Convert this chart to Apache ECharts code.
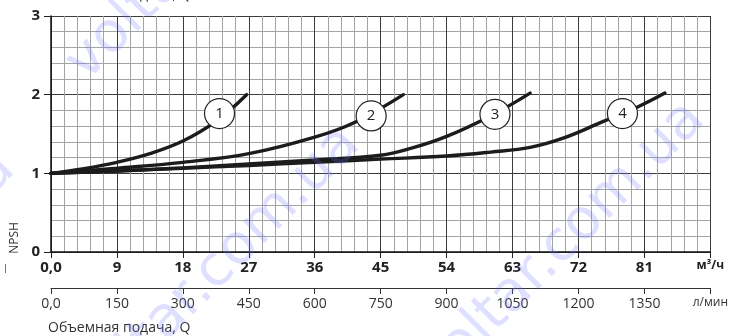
<!DOCTYPE html>
<html>
<head>
<meta charset="utf-8">
<script src="https://cdn.jsdelivr.net/npm/echarts@6/dist/echarts.min.js"></script>
<style>
  html, body { margin: 0; padding: 0; background: #fff; }
  #chart { width: 731px; height: 336px; }
</style>
</head>
<body>
<div id="chart"></div>
<script>
// Flow in m³/h versus NPSH for four pump sizes
const flowTicksM3h = [0, 9, 18, 27, 36, 45, 54, 63, 72, 81, 90];
const flowUnitM3h = 'м³/ч';
const flowUnitLmin = 'л/мин';
const flowAxisName = 'Объемная подача, Q';
const npshName = 'NPSH';

const curve1 = [[0, 1.0], [4.5, 1.06], [9, 1.14], [13.5, 1.25], [18, 1.41], [22.5, 1.66], [26.7, 2.0]];
const curve2 = [[0, 1.0], [9, 1.065], [18, 1.14], [27, 1.25], [36, 1.46], [41.5, 1.65], [48.1, 2.0]];
const curve3 = [[0, 1.0], [9, 1.03], [18, 1.07], [27, 1.12], [36, 1.17], [45, 1.23], [49.2, 1.32], [54, 1.47], [60, 1.73], [65.4, 2.02]];
const curve4 = [[0, 1.0], [9, 1.03], [18, 1.065], [27, 1.1], [36, 1.14], [45, 1.18], [54, 1.22], [60, 1.27], [65.4, 1.33], [70, 1.45], [75.4, 1.66], [80, 1.84], [83.8, 2.02]];

// Numbered markers placed on each curve
const curveTags = ['1', '2', '3', '4'];
const tagPositions = [[23, 1.76], [43.7, 1.73], [60.6, 1.75], [78, 1.76]];

const watermarkText = 'voltar.com.ua';

const chart = echarts.init(document.getElementById('chart'), null, { renderer: 'canvas' });

const lineColor = '#1c1c1c';
const majorGrid = '#3c3c3c';
const minorGrid = '#a4a4a4';
const fontFamily = '"Open Sans", "DejaVu Sans", sans-serif';

function curveSeries(data) {
  return {
    type: 'line',
    data: data,
    smooth: 0.4,
    showSymbol: false,
    xAxisIndex: 0,
    yAxisIndex: 0,
    lineStyle: { color: lineColor, width: 3.4, cap: 'round' },
    z: 3,
    silent: true
  };
}

function watermark(x, y) {
  return {
    type: 'text',
    x: x, y: y,
    rotation: Math.PI / 4,
    z: 100,
    silent: true,
    style: {
      text: watermarkText,
      fill: 'rgba(110,110,255,0.22)',
      fontSize: 56,
      fontFamily: '"DejaVu Sans", sans-serif',
      align: 'left',
      verticalAlign: 'middle'
    }
  };
}

const option = {
  animation: false,
  backgroundColor: '#ffffff',
  grid: { left: 51, right: 18, top: 16, bottom: 84, containLabel: false },
  xAxis: [
    {
      type: 'value',
      min: 0, max: 90, interval: 9,
      position: 'bottom',
      axisLine: { show: true, onZero: false, lineStyle: { color: '#111', width: 1.5 } },
      axisTick: { show: true, inside: false, length: 6, lineStyle: { color: '#222', width: 1 } },
      axisLabel: {
        margin: 8,
        color: '#222',
        fontSize: 15,
        fontWeight: 'bold',
        fontFamily: fontFamily,
        showMinLabel: true,
        showMaxLabel: true,
        formatter: function (v) {
          if (v === 0) return '0,0';
          if (v === 90) return '{u|' + flowUnitM3h + '}';
          return String(v);
        },
        rich: { u: { fontSize: 12, fontWeight: 'bold', color: '#222', fontFamily: fontFamily } }
      },
      splitLine: { show: true, lineStyle: { color: majorGrid, width: 1 } },
      minorTick: { show: false, splitNumber: 5 },
      minorSplitLine: { show: true, lineStyle: { color: minorGrid, width: 1 } }
    },
    {
      type: 'value',
      min: 0, max: 1500, interval: 150,
      position: 'bottom',
      offset: 36,
      axisLine: { show: true, onZero: false, lineStyle: { color: '#333', width: 1 } },
      axisTick: { show: true, inside: false, length: 6, lineStyle: { color: '#333', width: 1 } },
      axisLabel: {
        margin: 9,
        color: '#333',
        fontSize: 14,
        fontFamily: fontFamily,
        showMinLabel: true,
        showMaxLabel: true,
        formatter: function (v) {
          if (v === 0) return '0,0';
          if (v === 1500) return '{u|' + flowUnitLmin + '}';
          return String(v);
        },
        rich: { u: { fontSize: 12, color: '#333', fontFamily: fontFamily } }
      },
      splitLine: { show: false }
    }
  ],
  yAxis: {
    type: 'value',
    min: 0, max: 3, interval: 1,
    axisLine: { show: true, onZero: false, lineStyle: { color: '#111', width: 1.5 } },
    axisTick: { show: true, inside: false, length: 7, lineStyle: { color: '#222', width: 1 } },
    axisLabel: {
      margin: 11,
      color: '#222',
      fontSize: 15,
      fontWeight: 'bold',
      fontFamily: fontFamily
    },
    splitLine: { show: true, lineStyle: { color: majorGrid, width: 1 } },
    minorTick: { show: false, splitNumber: 5 },
    minorSplitLine: { show: true, lineStyle: { color: minorGrid, width: 1 } }
  },
  series: [
    curveSeries(curve1),
    curveSeries(curve2),
    curveSeries(curve3),
    curveSeries(curve4),
    {
      type: 'scatter',
      data: tagPositions.map(function (p, i) { return { value: p, name: curveTags[i] }; }),
      symbol: 'circle',
      symbolSize: 30,
      itemStyle: { color: '#ffffff', borderColor: '#222', borderWidth: 1.2, opacity: 1 },
      label: {
        show: true,
        position: 'inside',
        formatter: function (p) { return p.name; },
        color: '#222',
        fontSize: 15,
        fontFamily: fontFamily
      },
      z: 5,
      silent: true
    }
  ],
  graphic: [
    {
      type: 'text',
      x: 48, y: 328,
      silent: true,
      style: { text: flowAxisName, fill: '#333', fontSize: 14, fontFamily: fontFamily, align: 'left', verticalAlign: 'middle' }
    },
    {
      type: 'text',
      x: 48, y: 2,
      silent: true,
      style: { text: flowAxisName, fill: '#333', fontSize: 14, fontFamily: fontFamily, align: 'left', verticalAlign: 'bottom' }
    },
    {
      type: 'text',
      x: 15, y: 238,
      rotation: Math.PI / 2,
      silent: true,
      style: { text: npshName, fill: '#333', fontSize: 12, fontFamily: fontFamily, align: 'center', verticalAlign: 'middle' }
    },
    {
      type: 'line',
      silent: true,
      shape: { x1: 5.5, y1: 264, x2: 5.5, y2: 273 },
      style: { stroke: '#777', lineWidth: 1 }
    },
    watermark(76, 72),
    watermark(81, 406),
    watermark(426, 381),
    watermark(-264, 431)
  ]
};

chart.setOption(option);
</script>
</body>
</html>
